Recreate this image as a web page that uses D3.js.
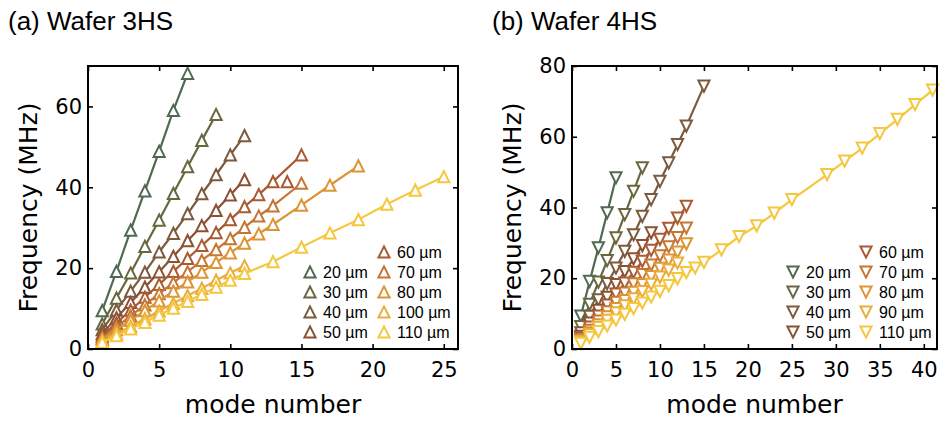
<!DOCTYPE html>
<html>
<head>
<meta charset="utf-8">
<script src="https://cdn.jsdelivr.net/npm/d3@7"></script>
<style>
  body { margin: 0; background: #fff; }
  svg { display: block; }
  .tick text { font-family: "DejaVu Sans", sans-serif; font-size: 21px; fill: #000; }
  .axis-label { font-family: "DejaVu Sans", sans-serif; font-size: 25px; fill: #000; }
  .panel-title { font-family: "Liberation Sans", Arial, sans-serif; font-size: 26px; fill: #000; }
  .legend-text { font-family: "Liberation Sans", Arial, sans-serif; font-size: 16px; fill: #000; }
</style>
</head>
<body>
<div id="chart"></div>
<script>
// ---- panel (a) Wafer 3HS : mode number vs frequency (MHz) ----
const a20m = [1, 2, 3, 4, 5, 6, 7];
const a20 = [9.5, 19.2, 29.4, 39.1, 48.9, 59.0, 68.2];
const a30m = [1, 2, 3, 4, 5, 6, 7, 8, 9];
const a30 = [6.2, 12.6, 18.8, 25.4, 31.9, 38.5, 45.1, 51.6, 58.0];
const a40m = [1, 2, 3, 4, 5, 6, 7, 8, 9, 10, 11];
const a40 = [4.8, 9.6, 14.3, 19.0, 24.0, 28.6, 33.5, 38.4, 43.1, 48.0, 52.8];
const a50m = [1, 2, 3, 4, 5, 6, 7, 8, 9, 10, 11];
const a50 = [3.8, 7.7, 11.5, 15.3, 19.1, 22.9, 26.8, 30.5, 34.3, 38.1, 41.9];
const a60m = [1, 2, 3, 4, 5, 6, 7, 8, 9, 10, 11, 12, 13, 15];
const a60 = [3.2, 6.4, 9.6, 12.8, 16.0, 19.2, 22.4, 25.6, 28.8, 32.0, 35.2, 38.2, 41.4, 48.0];
const a60extraM = [14];
const a60extra = [41.4];
const a70m = [1, 2, 3, 4, 5, 6, 7, 8, 9, 10, 11, 12, 13, 15];
const a70 = [2.7, 5.5, 8.2, 10.9, 13.7, 16.4, 19.1, 21.9, 24.6, 27.3, 30.1, 32.9, 35.4, 41.0];
const a80m = [1, 2, 3, 4, 5, 6, 7, 8, 9, 10, 11, 12, 13, 15, 17, 19];
const a80 = [2.4, 4.8, 7.1, 9.5, 11.9, 14.3, 16.6, 19.0, 21.4, 23.8, 26.2, 28.5, 30.8, 35.6, 40.5, 45.3];
const a100m = [1, 2, 3, 4, 5, 6, 7, 8, 9, 10, 11];
const a100 = [1.9, 3.8, 5.6, 7.5, 9.4, 11.3, 13.2, 15.0, 17.0, 18.8, 20.6];
const a110m = [1, 2, 3, 4, 5, 6, 7, 8, 9, 10, 11, 13, 15, 17, 19, 21, 23, 25];
const a110 = [1.7, 3.3, 5.0, 6.6, 8.4, 10.1, 11.8, 13.5, 15.3, 17.0, 18.7, 21.6, 25.2, 28.7, 32.0, 35.8, 39.3, 42.6];

// ---- panel (b) Wafer 4HS ----
const b20m = [1, 2, 3, 4, 5];
const b20 = [9.3, 19.1, 28.6, 38.5, 48.4];
const b30m = [1, 2, 3, 4, 5, 6, 7, 8];
const b30 = [6.3, 12.6, 18.9, 25.0, 31.4, 38.0, 44.6, 51.2];
const b40m = [1, 2, 3, 4, 5, 6, 7, 8, 9, 10, 11, 12, 13, 15];
const b40 = [4.6, 9.2, 13.9, 18.5, 22.9, 27.6, 32.3, 37.5, 42.2, 47.4, 52.6, 57.8, 63.0, 74.3];
const b50m = [1, 2, 3, 4, 5, 6, 7, 8, 9];
const b50 = [3.6, 7.3, 10.9, 14.6, 18.2, 21.9, 25.5, 29.2, 32.8];
const b60m = [1, 2, 3, 4, 5, 6, 7, 8, 9, 10, 11, 12, 13];
const b60 = [3.1, 6.2, 9.3, 12.4, 15.5, 18.6, 21.7, 24.8, 27.9, 31.0, 34.1, 37.0, 40.3];
const b70m = [1, 2, 3, 4, 5, 6, 7, 8, 9, 10, 11, 12, 13];
const b70 = [2.6, 5.3, 7.9, 10.5, 13.2, 15.8, 18.4, 21.0, 23.7, 26.3, 28.9, 31.5, 34.2];
const b80m = [1, 2, 3, 4, 5, 6, 7, 8, 9, 10, 11, 12, 13];
const b80 = [2.3, 4.6, 6.8, 9.1, 11.4, 13.7, 16.0, 18.2, 20.5, 22.8, 25.1, 27.4, 29.7];
const b90m = [1, 2, 3, 4, 5, 6, 7, 8, 9, 10, 11, 12];
const b90 = [2.0, 4.1, 6.1, 8.1, 10.2, 12.2, 14.2, 16.2, 18.3, 20.3, 22.3, 24.3];
const b110m = [1, 2, 3, 4, 5, 6, 7, 8, 9, 10, 11, 12, 13, 14, 15, 17, 19, 21, 23, 25, 29, 31, 33, 35, 37, 39, 41];
const b110 = [1.6, 3.3, 4.9, 6.5, 8.2, 9.8, 11.4, 13.0, 14.7, 16.3, 17.9, 19.9, 21.6, 22.9, 24.5, 28.0, 31.8, 34.8, 38.4, 42.2, 49.3, 53.1, 56.8, 60.9, 64.9, 69.1, 73.2];

// tick values
const aXTicks = [0, 5, 10, 15, 20, 25];
const aYTicks = [0, 20, 40, 60];
const bXTicks = [0, 5, 10, 15, 20, 25, 30, 35, 40];
const bYTicks = [0, 20, 40, 60, 80];

// colours per width
const colors = {
    "20 µm": "#4f6a51", "30 µm": "#68683f", "40 µm": "#7b5a3d", "50 µm": "#8b5133",
    "60 µm": "#a85b33", "70 µm": "#c57534", "80 µm": "#dd9434", "90 µm": "#ebad3a",
    "100 µm": "#ebad3a", "110 µm": "#f5c73e"
};

const W = 941, H = 422;
const svg = d3.select("#chart").append("svg").attr("width", W).attr("height", H);

function triPath(up, r) {
    return up ? `M0,${-r}L${r},${r}L${-r},${r}Z` : `M0,${r}L${r},${-r}L${-r},${-r}Z`;
}

function drawPanel(cfg) {
    let g = svg.append("g").attr("transform", `translate(${cfg.left},${cfg.top})`);
    let w = cfg.width, h = cfg.height;

    let x = d3.scaleLinear().domain(cfg.xDomain).range([0, w]);
    let y = d3.scaleLinear().domain(cfg.yDomain).range([h, 0]);

    // axes with inward ticks
    g.append("g").attr("transform", `translate(0,${h})`)
        .call(d3.axisBottom(x).tickValues(cfg.xTicks).tickSizeInner(-5).tickSizeOuter(0).tickPadding(13));
    g.append("g")
        .call(d3.axisLeft(y).tickValues(cfg.yTicks).tickSizeInner(-5).tickSizeOuter(0).tickPadding(6));
    g.append("g")
        .call(d3.axisTop(x).tickValues(cfg.xTicks).tickSizeInner(-5).tickSizeOuter(0).tickFormat(""));
    g.append("g").attr("transform", `translate(${w},0)`)
        .call(d3.axisRight(y).tickValues(cfg.yTicks).tickSizeInner(-5).tickSizeOuter(0).tickFormat(""));
    g.selectAll(".domain").remove();
    g.selectAll(".tick line").attr("stroke", "#000").attr("stroke-width", 1.6);

    let plot = g.append("g");
    let line = d3.line().x(d => x(d[0])).y(d => y(d[1]));

    cfg.series.forEach(s => {
        let pts = s.modes.map((m, i) => [m, s.freq[i]]);
        let col = colors[s.label];
        plot.append("path").datum(pts)
            .attr("d", line)
            .attr("fill", "none")
            .attr("stroke", col)
            .attr("stroke-width", 2.2);
        let all = pts.concat((s.extraM || []).map((m, i) => [m, s.extra[i]]));
        plot.selectAll(null).data(all).enter()
            .append("path")
            .attr("d", triPath(cfg.up, 5.6))
            .attr("transform", d => `translate(${x(d[0])},${y(d[1])})`)
            .attr("fill", "#fff")
            .attr("stroke", col)
            .attr("stroke-width", 2);
    });

    // frame
    g.append("rect").attr("width", w).attr("height", h)
        .attr("fill", "none").attr("stroke", "#000").attr("stroke-width", 2);

    // labels
    g.append("text").attr("class", "axis-label")
        .attr("text-anchor", "middle")
        .attr("transform", `translate(${w / 2},${h + 64})`)
        .text("mode number");
    g.append("text").attr("class", "axis-label")
        .attr("text-anchor", "middle")
        .attr("transform", `translate(${cfg.yLabelX},${h / 2})rotate(-90)`)
        .text("Frequency (MHz)");
    svg.append("text").attr("class", "panel-title")
        .attr("x", cfg.titleX).attr("y", 30)
        .text(cfg.title);

    // legend: two columns
    let leg = svg.append("g");
    cfg.legend.forEach(item => {
        let gi = leg.append("g").attr("transform", `translate(${item[1]},${item[2]})`);
        gi.append("path").attr("d", triPath(cfg.up, 5.6))
            .attr("fill", "#fff").attr("stroke", colors[item[0]]).attr("stroke-width", 2);
        gi.append("text").attr("class", "legend-text")
            .attr("x", cfg.legTextDx).attr("y", 6)
            .text(item[0]);
    });
}

drawPanel({
    left: 88, top: 66, width: 370, height: 283,
    xDomain: [0, 26], yDomain: [0, 70],
    xTicks: aXTicks, yTicks: aYTicks, up: true,
    yLabelX: -51, titleX: 8, title: "(a) Wafer 3HS",
    legTextDx: 13,
    series: [
        {label: "20 µm", modes: a20m, freq: a20},
        {label: "30 µm", modes: a30m, freq: a30},
        {label: "40 µm", modes: a40m, freq: a40},
        {label: "50 µm", modes: a50m, freq: a50},
        {label: "60 µm", modes: a60m, freq: a60, extraM: a60extraM, extra: a60extra},
        {label: "70 µm", modes: a70m, freq: a70},
        {label: "80 µm", modes: a80m, freq: a80},
        {label: "100 µm", modes: a100m, freq: a100},
        {label: "110 µm", modes: a110m, freq: a110}
    ],
    legend: [
        ["20 µm", 310, 272], ["30 µm", 310, 292], ["40 µm", 310, 312], ["50 µm", 310, 332],
        ["60 µm", 384, 252], ["70 µm", 384, 272], ["80 µm", 384, 292], ["100 µm", 384, 312], ["110 µm", 384, 332]
    ]
});

drawPanel({
    left: 572, top: 66, width: 365, height: 283,
    xDomain: [0, 41.5], yDomain: [0, 80],
    xTicks: bXTicks, yTicks: bYTicks, up: false,
    yLabelX: -51, titleX: 492, title: "(b) Wafer 4HS",
    legTextDx: 13,
    series: [
        {label: "20 µm", modes: b20m, freq: b20},
        {label: "30 µm", modes: b30m, freq: b30},
        {label: "40 µm", modes: b40m, freq: b40},
        {label: "50 µm", modes: b50m, freq: b50},
        {label: "60 µm", modes: b60m, freq: b60},
        {label: "70 µm", modes: b70m, freq: b70},
        {label: "80 µm", modes: b80m, freq: b80},
        {label: "90 µm", modes: b90m, freq: b90},
        {label: "110 µm", modes: b110m, freq: b110}
    ],
    legend: [
        ["20 µm", 793, 272], ["30 µm", 793, 292], ["40 µm", 793, 312], ["50 µm", 793, 332],
        ["60 µm", 866, 252], ["70 µm", 866, 272], ["80 µm", 866, 292], ["90 µm", 866, 312], ["110 µm", 866, 332]
    ]
});
</script>
</body>
</html>
